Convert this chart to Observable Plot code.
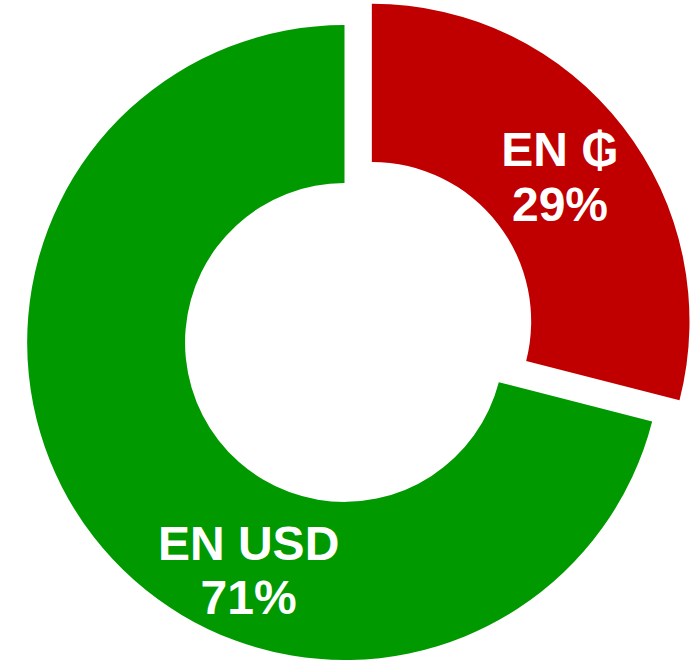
<!DOCTYPE html>
<html>
<head>
<meta charset="utf-8">
<script src="https://cdn.jsdelivr.net/npm/d3@7"></script>
<script src="https://cdn.jsdelivr.net/npm/@observablehq/plot@0.6"></script>
<style>
  html, body { margin: 0; padding: 0; background: #fff; }
</style>
</head>
<body>
<div id="chart"></div>
<script>
// Data
const categories = ["EN ₲", "EN USD"];
const shares = [29, 71];
const colors = ["#C00000", "#009900"];
const explode = [0.109, 0];          // radial offset (fraction of outer radius)
const labelAlong = [0.5, 0.386];     // label position along slice (fraction)
const labelRadius = [0.748, 0.775];  // label radius (fraction of outer radius)

const W = 692, H = 661;
const CX = 344.5, CY = 342.5, R = 317.5, INNER = 0.502;

const total = d3.sum(shares);
const pie = d3.pie().sort(null).value(d => d.value)(
  categories.map((c, i) => ({ name: c, value: shares[i], i }))
);

const slices = pie.map(p => {
  const i = p.data.i;
  const mid = (p.startAngle + p.endAngle) / 2;
  const la = p.startAngle + (p.endAngle - p.startAngle) * labelAlong[i];
  const ox = explode[i] * Math.sin(mid), oy = explode[i] * Math.cos(mid);
  return {
    ...p,
    name: p.data.name,
    color: colors[i],
    ox, oy,
    lx: ox + labelRadius[i] * Math.sin(la),
    ly: oy + labelRadius[i] * Math.cos(la),
    label: `${p.data.name}\n${Math.round(100 * p.data.value / total)}%`
  };
});

const arcGen = d3.arc().innerRadius(INNER).outerRadius(1);

function donut(index, scales) {
  const sx = scales.x, sy = scales.y;
  const k = sx(1) - sx(0);
  const g = d3.create("svg:g");
  g.selectAll("path")
    .data(slices)
    .join("path")
    .attr("fill", d => d.color)
    .attr("transform", d => `translate(${sx(d.ox)},${sy(d.oy)}) scale(${k})`)
    .attr("d", d => arcGen(d));
  return g.node();
}

const chart = Plot.plot({
  width: W,
  height: H,
  margin: 0,
  x: { domain: [-CX / R, (W - CX) / R], axis: null },
  y: { domain: [-(H - CY) / R, CY / R], axis: null },
  marks: [
    donut,
    Plot.text(slices, {
      x: "lx",
      y: "ly",
      text: "label",
      fill: "white",
      fontSize: 48,
      fontWeight: "bold",
      fontFamily: "Liberation Sans, Arial, DejaVu Sans, sans-serif",
      lineHeight: 1.14
    })
  ]
});
document.getElementById("chart").appendChild(chart);
</script>
</body>
</html>
